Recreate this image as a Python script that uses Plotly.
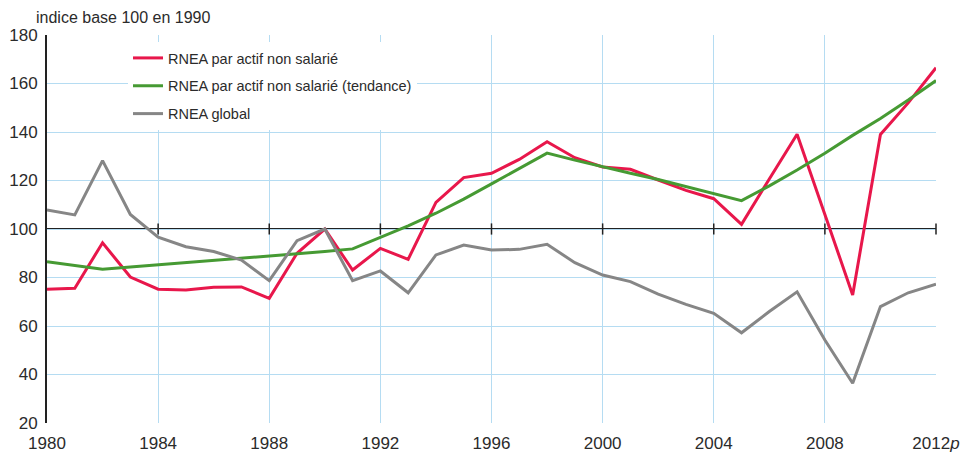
import plotly.graph_objects as go

years = list(range(1980, 2013))

rnea_actif = [75.2, 75.6, 94.3, 80.2, 75.2, 74.8, 76.0, 76.1, 71.4, 90.0,
              100.0, 83.1, 92.0, 87.5, 111.0, 121.2, 123.0, 128.7, 136.0, 129.4,
              125.6, 124.6, 120.2, 115.9, 112.5, 101.9, 120.6, 139.1, 106.0, 72.8,
              139.0, 152.0, 166.5]

rnea_tendance = [86.5, 84.8, 83.4, 84.3, 85.2, 86.1, 87.0, 88.0, 88.9, 89.8,
                 90.7, 91.8, 96.6, 101.3, 106.5, 112.3, 118.6, 124.9, 131.3, 128.4,
                 125.6, 123.0, 120.4, 117.6, 114.7, 111.7, 117.8, 124.3, 131.2, 138.6,
                 145.6, 153.2, 161.2]

rnea_global = [107.8, 105.8, 128.2, 106.0, 96.6, 92.7, 90.7, 87.2, 78.7, 95.2,
               100.0, 78.7, 82.7, 73.7, 89.3, 93.4, 91.3, 91.6, 93.7, 86.1,
               81.0, 78.3, 73.1, 68.9, 65.2, 57.2, 66.0, 74.1, 54.2, 36.4,
               68.0, 73.7, 77.2]

x_tickvals = [1980, 1984, 1988, 1992, 1996, 2000, 2004, 2008, 2012]
x_ticktext = ["1980", "1984", "1988", "1992", "1996", "2000", "2004", "2008", "2012<i>p</i>"]
y_tickvals = [20, 40, 60, 80, 100, 120, 140, 160, 180]

FONT = "Liberation Sans, Arial, sans-serif"
GRID = "#b5dcf2"

fig = go.Figure()

fig.add_trace(go.Scatter(x=years, y=rnea_actif, mode="lines", name="RNEA par actif non salarié",
                         line=dict(color="#e8174b", width=3), legendgroup="a"))
fig.add_trace(go.Scatter(x=years, y=rnea_tendance, mode="lines", name="RNEA par actif non salarié (tendance)",
                         line=dict(color="#469a33", width=3), legendgroup="b"))
fig.add_trace(go.Scatter(x=years, y=rnea_global, mode="lines", name="RNEA global",
                         line=dict(color="#868686", width=3), legendgroup="c"))

# reference line at 100 with tick marks
fig.add_shape(type="line", xref="paper", x0=0, x1=1, yref="y", y0=100, y1=100,
              line=dict(color="#222222", width=2), layer="below")
fig.add_trace(go.Scatter(x=x_tickvals[1:], y=[100] * (len(x_tickvals) - 1), mode="markers",
                         marker=dict(symbol="line-ns-open", size=8, color="#222222",
                                     line=dict(color="#222222", width=1.5)),
                         showlegend=False, hoverinfo="skip", cliponaxis=False))

# page body has an 8px margin, so the figure is shrunk by 8px and margins shifted
fig.update_layout(
    width=962, height=452,
    margin=dict(l=39, r=34, t=27, b=37, autoexpand=False),
    paper_bgcolor="white", plot_bgcolor="white",
    font=dict(family=FONT, size=17, color="#2b2b2b"),
    showlegend=True,
    legend=dict(x=0.0911, y=0.982, xanchor="left", yanchor="top",
                bgcolor="white", font=dict(family=FONT, size=14.5, color="#2b2b2b"),
                tracegroupgap=6, itemwidth=30, traceorder="grouped"),
    title=dict(text="indice base 100 en 1990", xref="container", yref="container",
               x=28 / 962, y=1 - 9 / 452, xanchor="left", yanchor="middle",
               font=dict(family=FONT, size=16, color="#2b2b2b")),
)

fig.update_xaxes(range=[1980, 2012], tickvals=x_tickvals, ticktext=x_ticktext,
                 showgrid=True, gridcolor=GRID, gridwidth=1.3, zeroline=False,
                 showline=False, ticks="", tickfont=dict(size=17), automargin=False,
                 ticklabelstandoff=8)
fig.update_yaxes(range=[20, 180], tickvals=y_tickvals,
                 showgrid=True, gridcolor=GRID, gridwidth=1.3, zeroline=False,
                 showline=True, linecolor="#222222", linewidth=2, ticks="",
                 ticklabelstandoff=4, tickfont=dict(size=17), automargin=False)

fig.write_html("out.html")
